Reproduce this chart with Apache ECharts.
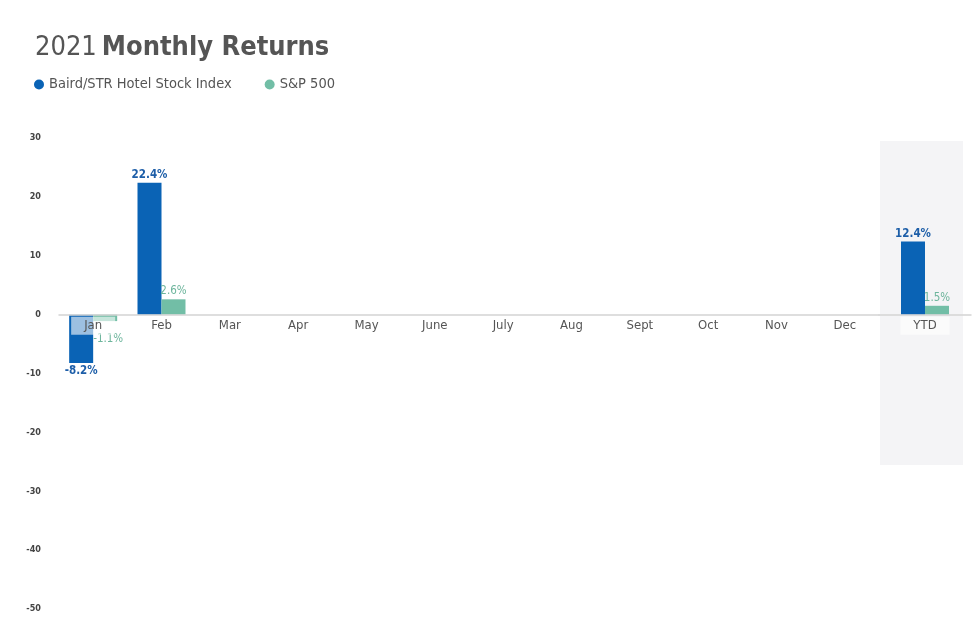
<!DOCTYPE html>
<html><head><meta charset="utf-8">
<script src="https://cdn.jsdelivr.net/npm/echarts@6/dist/echarts.min.js"></script>
<style>html,body{margin:0;padding:0;background:#fff}#c{width:980px;height:643px}</style>
</head><body><div id="c"></div>
<script>
const months = ['Jan','Feb','Mar','Apr','May','June','July','Aug','Sept','Oct','Nov','Dec'];
const ytdCategory = ['YTD'];
const bairdMonthly = [-8.2, 22.4, null, null, null, null, null, null, null, null, null, null];
const spMonthly = [-1.1, 2.6, null, null, null, null, null, null, null, null, null, null];
const bairdYTD = [12.4];
const spYTD = [1.5];
const seriesNames = ['Baird/STR Hotel Stock Index', 'S&P 500'];

const FONT = '"Liberation Sans Narrow","DejaVu Sans Condensed","Roboto",sans-serif';
const BLUE = '#0a63b5', TEAL = '#72bea6';
const Y_MIN = -50, Y_MAX = 30;
const GRID_TOP = 138, GRID_BOTTOM = 34, H = 643;
const plotH = H - GRID_TOP - GRID_BOTTOM;
const zeroOffset = -plotH * (0 - Y_MIN) / (Y_MAX - Y_MIN);

const fmt = p => (p.value == null ? '' : Number(p.value).toFixed(1) + '%');

function barSeries(name, data, color, labelColor, xi, bold, negDist) {
  return {
    name, type: 'bar', xAxisIndex: xi, yAxisIndex: xi,
    data: data.map(v => v != null && v < 0
      ? { value: v, label: { position: 'bottom', distance: negDist, offset: [bold ? 0 : 3, 0] } } : v),
    barWidth: 24, barGap: '0%', z: 2,
    itemStyle: { color },
    label: {
      show: true, position: 'top', distance: 2, formatter: fmt,
      color: labelColor, fontFamily: FONT, fontSize: 11.5, fontWeight: bold ? 'bold' : 'normal'
    }
  };
}

const chart = echarts.init(document.getElementById('c'));
const xAxisCommon = {
  type: 'category', z: 5, offset: zeroOffset,
  axisLine: { onZero: false, lineStyle: { color: '#d4d4d4', width: 1.5 } },
  axisTick: { show: false },
  axisLabel: {
    color: '#555', fontFamily: FONT, fontSize: 13, margin: 2,
    backgroundColor: 'rgba(255,255,255,0.6)', padding: [2, 13, 3, 13]
  }
};
const yAxisCommon = { type: 'value', min: Y_MIN, max: Y_MAX, interval: 10, splitLine: { show: false } };

chart.setOption({
  backgroundColor: '#fff',
  title: {
    left: 30, top: 29,
    text: '{a|2021} {b|Monthly Returns}',
    textStyle: {
      rich: {
        a: { fontFamily: FONT, fontSize: 27, color: '#555', fontWeight: 'normal' },
        b: { fontFamily: FONT, fontSize: 27, color: '#555', fontWeight: 'bold' }
      }
    }
  },
  legend: {
    left: 29, top: 72, icon: 'circle', itemWidth: 10, itemHeight: 10, itemGap: 33,
    data: seriesNames,
    textStyle: { fontFamily: FONT, fontSize: 14.5, color: '#555' }
  },
  graphic: [{
    type: 'rect', z: 0, silent: true,
    shape: { x: 880, y: 141, width: 83, height: 324 },
    style: { fill: '#f4f4f6' }
  }],
  grid: [
    { left: 59, right: 101, top: GRID_TOP, bottom: GRID_BOTTOM },
    { left: 879, right: 9, top: GRID_TOP, bottom: GRID_BOTTOM }
  ],
  xAxis: [
    Object.assign({}, xAxisCommon, { gridIndex: 0, data: months }),
    Object.assign({}, xAxisCommon, { gridIndex: 1, data: ytdCategory })
  ],
  yAxis: [
    Object.assign({}, yAxisCommon, {
      gridIndex: 0,
      axisLine: { show: false }, axisTick: { show: false },
      axisLabel: { color: '#444', fontFamily: FONT, fontSize: 9, fontWeight: 'bold', margin: 18 }
    }),
    Object.assign({}, yAxisCommon, { gridIndex: 1, show: false })
  ],
  series: [
    barSeries(seriesNames[0], bairdMonthly, BLUE, '#1d5ea8', 0, true, 2),
    barSeries(seriesNames[1], spMonthly, TEAL, '#6db59c', 0, false, 12),
    barSeries(seriesNames[0], bairdYTD, BLUE, '#1d5ea8', 1, true, 2),
    barSeries(seriesNames[1], spYTD, TEAL, '#6db59c', 1, false, 2)
  ]
});
</script></body></html>
